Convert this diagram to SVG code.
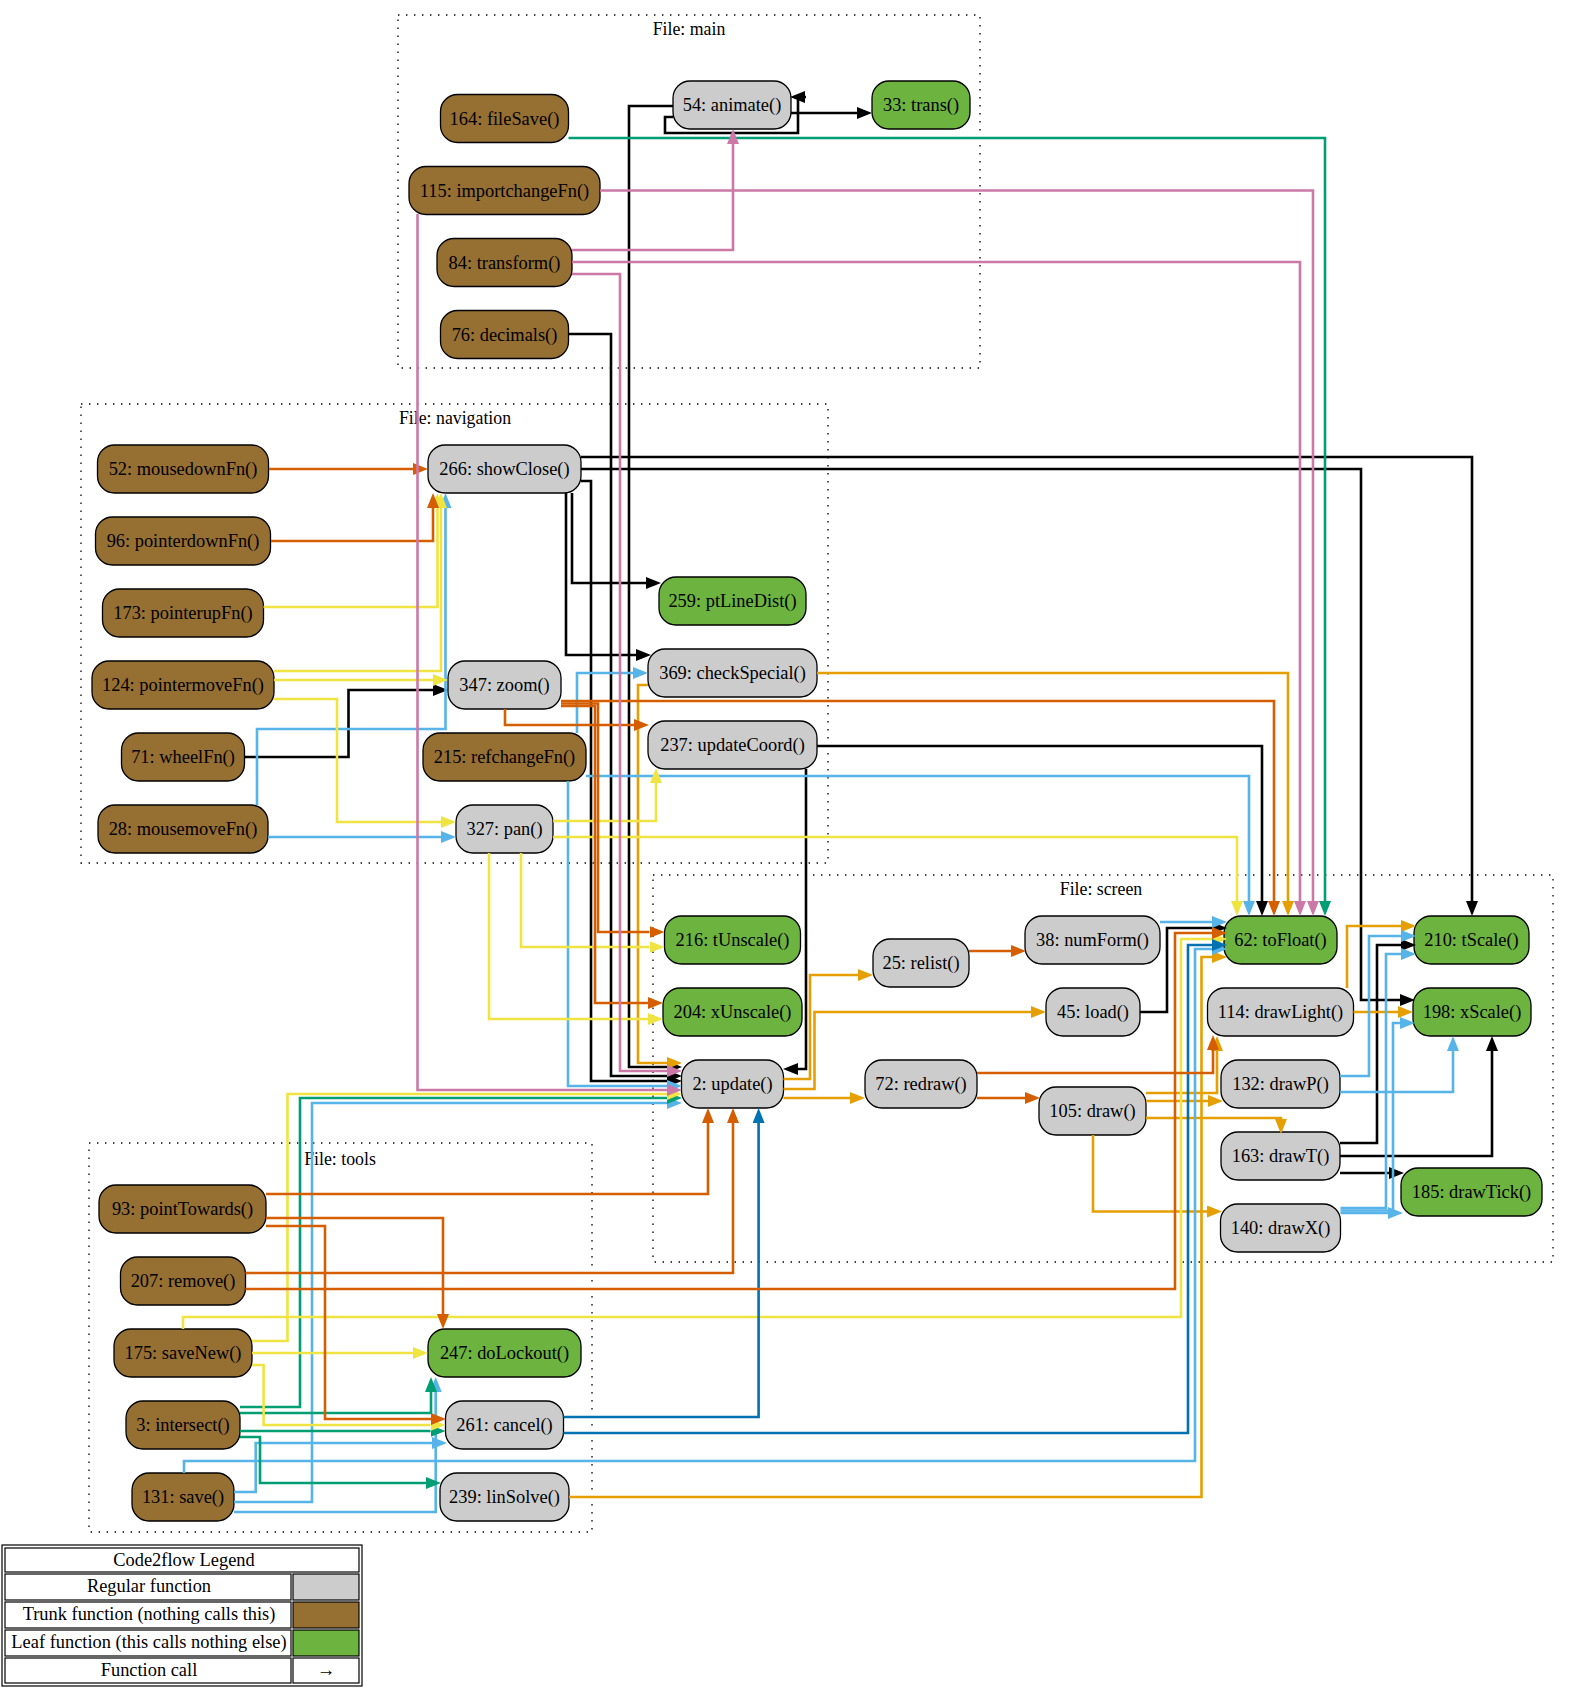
<svg xmlns="http://www.w3.org/2000/svg" width="1569" height="1694" viewBox="0 0 1569 1694">
<style>
  text { font-family: "Liberation Serif", "Times New Roman", serif; font-size: 18.4px; text-anchor: middle; fill: #000; }
  .cluster rect { fill: none; stroke: #000; stroke-width: 1.3; stroke-dasharray: 1.4 6.6; }
  .cluster text { font-size: 17.8px; }
  .node rect { stroke: #000; stroke-width: 1.3; }
  .reg rect { fill: #cccccc; }
  .trunk rect { fill: #966F33; }
  .leaf rect { fill: #6db33f; }
  #edges path { fill: none; stroke-width: 2.6; }
  .k { stroke: #000000; marker-end: url(#aK); }
  .o { stroke: #E69F00; marker-end: url(#aO); }
  .b { stroke: #56B4E9; marker-end: url(#aB); }
  .g { stroke: #009E73; marker-end: url(#aG); }
  .y { stroke: #F0E442; marker-end: url(#aY); }
  .d { stroke: #0072B2; marker-end: url(#aD); }
  .v { stroke: #D55E00; marker-end: url(#aV); }
  .p { stroke: #CC79A7; marker-end: url(#aP); }
  .legend rect { stroke: #000; stroke-width: 1.2; fill: #fff; }
</style>
<defs>
  <marker id="aK" viewBox="0 0 15 12" refX="0" refY="6" markerWidth="15" markerHeight="12" markerUnits="userSpaceOnUse" orient="auto"><path d="M0,0 L15,6 L0,12 z" fill="#000000"/></marker>
  <marker id="aO" viewBox="0 0 15 12" refX="0" refY="6" markerWidth="15" markerHeight="12" markerUnits="userSpaceOnUse" orient="auto"><path d="M0,0 L15,6 L0,12 z" fill="#E69F00"/></marker>
  <marker id="aB" viewBox="0 0 15 12" refX="0" refY="6" markerWidth="15" markerHeight="12" markerUnits="userSpaceOnUse" orient="auto"><path d="M0,0 L15,6 L0,12 z" fill="#56B4E9"/></marker>
  <marker id="aG" viewBox="0 0 15 12" refX="0" refY="6" markerWidth="15" markerHeight="12" markerUnits="userSpaceOnUse" orient="auto"><path d="M0,0 L15,6 L0,12 z" fill="#009E73"/></marker>
  <marker id="aY" viewBox="0 0 15 12" refX="0" refY="6" markerWidth="15" markerHeight="12" markerUnits="userSpaceOnUse" orient="auto"><path d="M0,0 L15,6 L0,12 z" fill="#F0E442"/></marker>
  <marker id="aD" viewBox="0 0 15 12" refX="0" refY="6" markerWidth="15" markerHeight="12" markerUnits="userSpaceOnUse" orient="auto"><path d="M0,0 L15,6 L0,12 z" fill="#0072B2"/></marker>
  <marker id="aV" viewBox="0 0 15 12" refX="0" refY="6" markerWidth="15" markerHeight="12" markerUnits="userSpaceOnUse" orient="auto"><path d="M0,0 L15,6 L0,12 z" fill="#D55E00"/></marker>
  <marker id="aP" viewBox="0 0 15 12" refX="0" refY="6" markerWidth="15" markerHeight="12" markerUnits="userSpaceOnUse" orient="auto"><path d="M0,0 L15,6 L0,12 z" fill="#CC79A7"/></marker>
</defs>
<rect width="1569" height="1694" fill="#fff"/>

<!-- file clusters -->
<g id="cluster-main" class="cluster"><rect x="398" y="15" width="582" height="353"/><text x="689" y="35">File: main</text></g>
<g id="cluster-navigation" class="cluster"><rect x="81" y="404" width="747" height="459"/><text x="455" y="424">File: navigation</text></g>
<g id="cluster-screen" class="cluster"><rect x="653" y="875" width="900" height="387"/><text x="1101" y="895">File: screen</text></g>
<g id="cluster-tools" class="cluster"><rect x="89" y="1143" width="503" height="389"/><text x="340" y="1165">File: tools</text></g>

<!-- functions -->
<g id="nodes">
  <g id="n-fileSave" class="node trunk"><rect x="440.5" y="94.5" width="128" height="48" rx="17"/><text x="504.5" y="124.5">164: fileSave()</text></g>
  <g id="n-importchangeFn" class="node trunk"><rect x="409" y="166.5" width="191" height="48" rx="17"/><text x="504.5" y="196.5">115: importchangeFn()</text></g>
  <g id="n-transform" class="node trunk"><rect x="437" y="238.5" width="135" height="48" rx="17"/><text x="504.5" y="268.5">84: transform()</text></g>
  <g id="n-decimals" class="node trunk"><rect x="440.5" y="310.5" width="128" height="48" rx="17"/><text x="504.5" y="340.5">76: decimals()</text></g>
  <g id="n-animate" class="node reg"><rect x="673" y="81" width="118" height="48" rx="17"/><text x="732" y="111">54: animate()</text></g>
  <g id="n-trans" class="node leaf"><rect x="872" y="81" width="98" height="48" rx="17"/><text x="921" y="111">33: trans()</text></g>

  <g id="n-mousedownFn" class="node trunk"><rect x="97.5" y="445" width="171" height="48" rx="17"/><text x="183" y="475">52: mousedownFn()</text></g>
  <g id="n-pointerdownFn" class="node trunk"><rect x="95.5" y="517" width="175" height="48" rx="17"/><text x="183" y="547">96: pointerdownFn()</text></g>
  <g id="n-pointerupFn" class="node trunk"><rect x="102.5" y="589" width="161" height="48" rx="17"/><text x="183" y="619">173: pointerupFn()</text></g>
  <g id="n-pointermoveFn" class="node trunk"><rect x="92" y="661" width="182" height="48" rx="17"/><text x="183" y="691">124: pointermoveFn()</text></g>
  <g id="n-wheelFn" class="node trunk"><rect x="121.5" y="733" width="123" height="48" rx="17"/><text x="183" y="763">71: wheelFn()</text></g>
  <g id="n-mousemoveFn" class="node trunk"><rect x="98" y="805" width="170" height="48" rx="17"/><text x="183" y="835">28: mousemoveFn()</text></g>
  <g id="n-showClose" class="node reg"><rect x="428" y="445" width="153" height="48" rx="17"/><text x="504.5" y="475">266: showClose()</text></g>
  <g id="n-zoom" class="node reg"><rect x="448" y="661" width="113" height="48" rx="17"/><text x="504.5" y="691">347: zoom()</text></g>
  <g id="n-refchangeFn" class="node trunk"><rect x="423" y="733" width="163" height="48" rx="17"/><text x="504.5" y="763">215: refchangeFn()</text></g>
  <g id="n-pan" class="node reg"><rect x="456" y="805" width="97" height="48" rx="17"/><text x="504.5" y="835">327: pan()</text></g>
  <g id="n-ptLineDist" class="node leaf"><rect x="659" y="577" width="147" height="48" rx="17"/><text x="732.5" y="607">259: ptLineDist()</text></g>
  <g id="n-checkSpecial" class="node reg"><rect x="648" y="649" width="169" height="48" rx="17"/><text x="732.5" y="679">369: checkSpecial()</text></g>
  <g id="n-updateCoord" class="node reg"><rect x="648" y="721" width="169" height="48" rx="17"/><text x="732.5" y="751">237: updateCoord()</text></g>

  <g id="n-tUnscale" class="node leaf"><rect x="664.5" y="916" width="136" height="48" rx="17"/><text x="732.5" y="946">216: tUnscale()</text></g>
  <g id="n-xUnscale" class="node leaf"><rect x="663" y="988" width="139" height="48" rx="17"/><text x="732.5" y="1018">204: xUnscale()</text></g>
  <g id="n-update" class="node reg"><rect x="681.5" y="1060" width="102" height="48" rx="17"/><text x="732.5" y="1090">2: update()</text></g>
  <g id="n-relist" class="node reg"><rect x="873" y="939" width="96" height="48" rx="17"/><text x="921" y="969">25: relist()</text></g>
  <g id="n-redraw" class="node reg"><rect x="865" y="1060" width="112" height="48" rx="17"/><text x="921" y="1090">72: redraw()</text></g>
  <g id="n-numForm" class="node reg"><rect x="1025" y="916" width="135" height="48" rx="17"/><text x="1092.5" y="946">38: numForm()</text></g>
  <g id="n-load" class="node reg"><rect x="1046" y="988" width="94" height="48" rx="17"/><text x="1093" y="1018">45: load()</text></g>
  <g id="n-draw" class="node reg"><rect x="1039" y="1087" width="107" height="48" rx="17"/><text x="1092.5" y="1117">105: draw()</text></g>
  <g id="n-toFloat" class="node leaf"><rect x="1224" y="916" width="113" height="48" rx="17"/><text x="1280.5" y="946">62: toFloat()</text></g>
  <g id="n-drawLight" class="node reg"><rect x="1207.5" y="988" width="146" height="48" rx="17"/><text x="1280.5" y="1018">114: drawLight()</text></g>
  <g id="n-drawP" class="node reg"><rect x="1221" y="1060" width="119" height="48" rx="17"/><text x="1280.5" y="1090">132: drawP()</text></g>
  <g id="n-drawT" class="node reg"><rect x="1221" y="1132" width="119" height="48" rx="17"/><text x="1280.5" y="1162">163: drawT()</text></g>
  <g id="n-drawX" class="node reg"><rect x="1220.5" y="1204" width="120" height="48" rx="17"/><text x="1280.5" y="1234">140: drawX()</text></g>
  <g id="n-tScale" class="node leaf"><rect x="1414" y="916" width="115" height="48" rx="17"/><text x="1471.5" y="946">210: tScale()</text></g>
  <g id="n-xScale" class="node leaf"><rect x="1413" y="988" width="118" height="48" rx="17"/><text x="1472" y="1018">198: xScale()</text></g>
  <g id="n-drawTick" class="node leaf"><rect x="1401" y="1168" width="141" height="48" rx="17"/><text x="1471.5" y="1198">185: drawTick()</text></g>

  <g id="n-pointTowards" class="node trunk"><rect x="99" y="1185" width="167" height="48" rx="17"/><text x="182.5" y="1215">93: pointTowards()</text></g>
  <g id="n-remove" class="node trunk"><rect x="120.5" y="1257" width="125" height="48" rx="17"/><text x="183" y="1287">207: remove()</text></g>
  <g id="n-saveNew" class="node trunk"><rect x="114" y="1329" width="138" height="48" rx="17"/><text x="183" y="1359">175: saveNew()</text></g>
  <g id="n-intersect" class="node trunk"><rect x="126" y="1401" width="114" height="48" rx="17"/><text x="183" y="1431">3: intersect()</text></g>
  <g id="n-save" class="node trunk"><rect x="132" y="1473" width="102" height="48" rx="17"/><text x="183" y="1503">131: save()</text></g>
  <g id="n-doLockout" class="node leaf"><rect x="428" y="1329" width="153" height="48" rx="17"/><text x="504.5" y="1359">247: doLockout()</text></g>
  <g id="n-cancel" class="node reg"><rect x="445.5" y="1401" width="118" height="48" rx="17"/><text x="504.5" y="1431">261: cancel()</text></g>
  <g id="n-linSolve" class="node reg"><rect x="440" y="1473" width="129" height="48" rx="17"/><text x="504.5" y="1503">239: linSolve()</text></g>
</g>

<!-- calls -->
<g id="edges">
  <!-- black -->
  <path class="k" d="M791,113 H857"/>
  <path class="k" d="M673,117 H665 V133 H798 V99 M806,97 H805"/>
  <path class="k" d="M673,106 H629 V1067 H667"/>
  <path class="k" d="M568.5,334 H611 V1076 H667"/>
  <path class="k" d="M244.5,757 H348.5 V690 H433"/>
  <path class="k" d="M581,457 H1472 V901"/>
  <path class="k" d="M581,469 H1361 V1000 H1400"/>
  <path class="k" d="M581,481 H591 V1081 H667"/>
  <path class="k" d="M572,493 V583 H646"/>
  <path class="k" d="M566,493 V655 H636"/>
  <path class="k" d="M817,746 H1262 V901"/>
  <path class="k" d="M806,769 V1069 H798"/>
  <path class="k" d="M1140,1012 H1167 V928 H1212"/>
  <path class="k" d="M1340,1143 H1377 V945 H1401"/>
  <path class="k" d="M1340,1156 H1492 V1051"/>
  <path class="k" d="M1340,1173 H1389"/>
  <!-- orange -->
  <path class="o" d="M817,673 H1288 V901"/>
  <path class="o" d="M648,685 H638 V1063 H667"/>
  <path class="o" d="M783.5,1079 H810 V975 H858"/>
  <path class="o" d="M783.5,1089 H814.5 V1012 H1031"/>
  <path class="o" d="M783.5,1098 H850"/>
  <path class="o" d="M1146,1093 H1217 V1051"/>
  <path class="o" d="M1146,1101 H1208"/>
  <path class="o" d="M1146,1118 H1281 V1119"/>
  <path class="o" d="M1093,1135 V1211.5 H1207"/>
  <path class="o" d="M1347,988 V926 H1401"/>
  <path class="o" d="M1353.5,1012 H1398"/>
  <path class="o" d="M569,1497 H1201.5 V957 H1212"/>
  <!-- sky blue -->
  <path class="b" d="M257,805 V729 H445.5 V508"/>
  <path class="b" d="M268,837 H441"/>
  <path class="b" d="M577,733 V673 H633"/>
  <path class="b" d="M586,776 H1249 V901"/>
  <path class="b" d="M568,781 V1086 H667"/>
  <path class="b" d="M1160,922 H1212"/>
  <path class="b" d="M1340,1076 H1369 V936 H1401"/>
  <path class="b" d="M1340,1092 H1453 V1051"/>
  <path class="b" d="M1340.5,1208 H1386 V954 H1401"/>
  <path class="b" d="M1340.5,1210.5 H1393 V1023 H1400"/>
  <path class="b" d="M1340.5,1213 H1388"/>
  <path class="b" d="M234,1492 H255.7 V1443 H432"/>
  <path class="b" d="M234,1502 H312 V1103 H667"/>
  <path class="b" d="M234,1512 H435.7 V1392"/>
  <path class="b" d="M184,1473 V1461 H1195 V949 H1212"/>
  <!-- teal -->
  <path class="g" d="M568.5,138 H1325 V901"/>
  <path class="g" d="M240,1407 H300 V1098 H667"/>
  <path class="g" d="M240,1413 H431 V1392"/>
  <path class="g" d="M240,1431 H430.5"/>
  <path class="g" d="M240,1437 H260 V1483 H426"/>
  <!-- yellow -->
  <path class="y" d="M263.5,607 H437.5 V508"/>
  <path class="y" d="M274,671 H441 V508"/>
  <path class="y" d="M274,680 H433"/>
  <path class="y" d="M274,699 H337 V822 H441"/>
  <path class="y" d="M553,821 H656 V783"/>
  <path class="y" d="M553,837 H1237 V901"/>
  <path class="y" d="M521,853 V947 H649.5"/>
  <path class="y" d="M489,853 V1019 H648"/>
  <path class="y" d="M252,1341 H287.5 V1094 H667"/>
  <path class="y" d="M183,1329 V1317 H1181 V939 H1212"/>
  <path class="y" d="M252,1353 H413"/>
  <path class="y" d="M252,1365 H263.6 V1425 H430.5"/>
  <!-- dark blue -->
  <path class="d" d="M563.5,1417 H758.6 V1123"/>
  <path class="d" d="M563.5,1433 H1188 V945 H1212"/>
  <!-- vermilion -->
  <path class="v" d="M269,469 H413"/>
  <path class="v" d="M271,541 H433 V508"/>
  <path class="v" d="M561,701 H1274 V901"/>
  <path class="v" d="M561,703.5 H598 V932 H649.5"/>
  <path class="v" d="M561,706 H595 V1003 H648"/>
  <path class="v" d="M505,709 V725 H634"/>
  <path class="v" d="M969,951 H1011"/>
  <path class="v" d="M977,1073 H1213 V1050"/>
  <path class="v" d="M977,1098 H1025"/>
  <path class="v" d="M266,1194 H708 V1123"/>
  <path class="v" d="M266,1218 H443 V1314"/>
  <path class="v" d="M266,1226 H325 V1419 H431"/>
  <path class="v" d="M245.5,1273 H733 V1123"/>
  <path class="v" d="M245.5,1289 H1175 V933 H1212"/>
  <!-- pink -->
  <path class="p" d="M600,190.5 H1313 V901"/>
  <path class="p" d="M417.5,214 V1090 H667"/>
  <path class="p" d="M572,250 H733 V144"/>
  <path class="p" d="M572,262 H1300 V901"/>
  <path class="p" d="M572,274 H620 V1071 H667"/>
</g>

<!-- legend table -->
<g id="legend" class="legend">
  <rect x="2" y="1545" width="360" height="141" stroke-width="2.2"/>
  <rect x="5" y="1548" width="354" height="24"/>
  <text x="184" y="1566">Code2flow Legend</text>
  <rect x="5" y="1574" width="286" height="26"/>
  <rect x="293" y="1574" width="66" height="26" style="fill:#cccccc"/>
  <text x="149" y="1592">Regular function</text>
  <rect x="5" y="1602" width="286" height="26"/>
  <rect x="293" y="1602" width="66" height="26" style="fill:#966F33"/>
  <text x="149" y="1620">Trunk function (nothing calls this)</text>
  <rect x="5" y="1630" width="286" height="26"/>
  <rect x="293" y="1630" width="66" height="26" style="fill:#6db33f"/>
  <text x="149" y="1648">Leaf function (this calls nothing else)</text>
  <rect x="5" y="1658" width="286" height="25"/>
  <rect x="293" y="1658" width="66" height="25"/>
  <text x="149" y="1676">Function call</text>
  <text x="326" y="1676">→</text>
</g>
</svg>
